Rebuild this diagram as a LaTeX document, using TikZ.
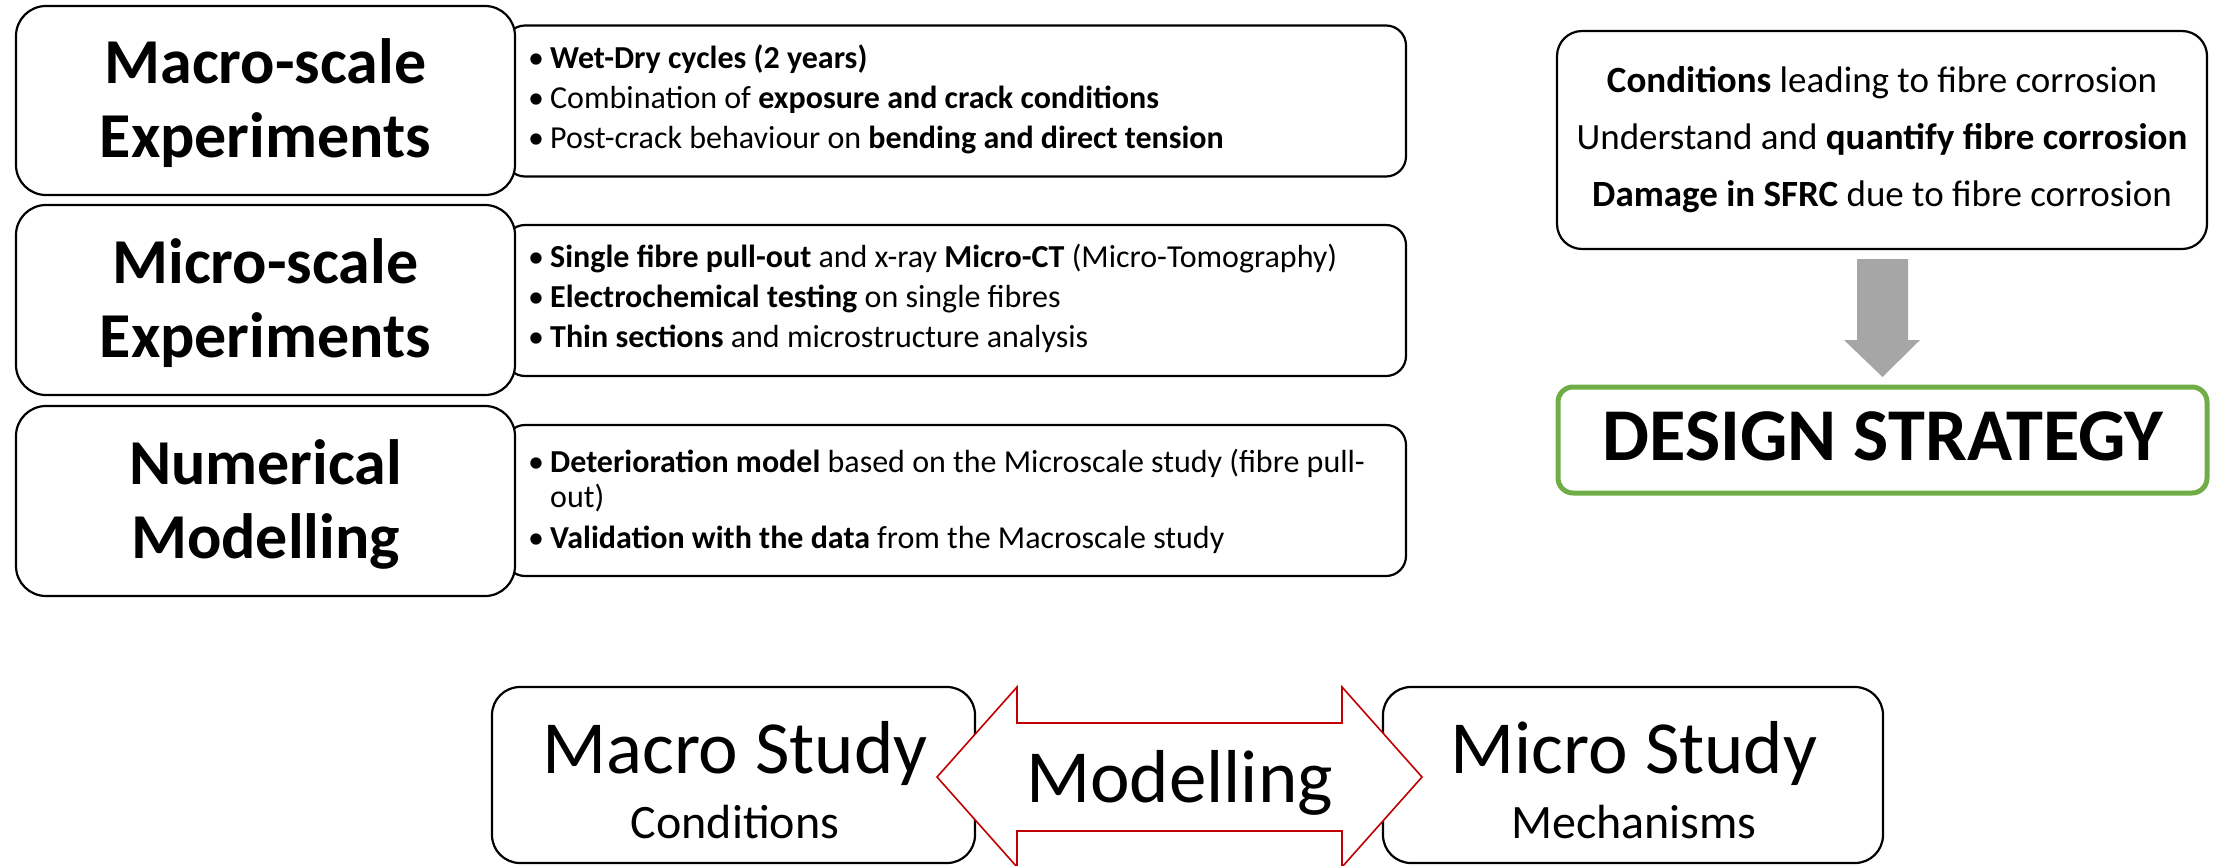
\documentclass[tikz,border=0pt]{standalone}
\usepackage{fontspec}
\setmainfont{Carlito}
\definecolor{dsgreen}{HTML}{70AD47}
\definecolor{modred}{HTML}{C00000}
\definecolor{flowgray}{HTML}{A6A6A6}
\newcommand{\bul}{\makebox[22pt][l]{•}}
\begin{document}
\begin{tikzpicture}[x=1pt,y=-1pt,
  headbox/.style={draw=black, line width=2.2pt, fill=white, rounded corners=30pt,
    minimum width=499pt, inner sep=0pt},
  listbox/.style={draw=black, line width=2.2pt, fill=white, rounded corners=20pt,
    minimum width=901pt, minimum height=151pt, inner sep=0pt},
  studybox/.style={draw=black, line width=2.2pt, fill=white, rounded corners=28pt,
    minimum height=176pt, inner sep=0pt},
  headtext/.style={anchor=base, inner sep=0pt, font=\fontsize{64}{74}\selectfont\bfseries},
  listtext/.style={anchor=base west, inner sep=0pt, font=\fontsize{32}{40}\selectfont},
  goaltext/.style={anchor=base, inner sep=0pt, font=\fontsize{37}{57}\selectfont},
]
\useasboundingbox (0,0) rectangle (2216,865);

% ---- detail boxes (behind the heading boxes) ----
\node[listbox] (d1) at (955.5,101) {};
\node[listbox] (d2) at (955.5,300.5) {};
\node[listbox] (d3) at (955.5,500.5) {};

% ---- heading boxes ----
\node[headbox, minimum height=189pt] (h1) at (265.5,100.5) {};
\node[headbox, minimum height=190pt] (h2) at (265.5,300) {};
\node[headbox, minimum height=190pt] (h3) at (265.5,501) {};

\node[headtext] (h1t) at (265.5,83) {\begin{tabular}[t]{@{}c@{}}Macro-scale\\Experiments\end{tabular}};
\node[headtext] (h2t) at (265.5,283) {\begin{tabular}[t]{@{}c@{}}Micro-scale\\Experiments\end{tabular}};
\node[headtext] (h3t) at (265.5,484) {\begin{tabular}[t]{@{}c@{}}Numerical\\Modelling\end{tabular}};

% ---- bullet lists ----
\node[listtext] (d1t) at (528,68) {\begin{tabular}[t]{@{}l@{}}
  \bul\textbf{Wet-Dry cycles (2 years)}\\
  \bul Combination of \textbf{exposure and crack conditions}\\
  \bul Post-crack behaviour on \textbf{bending and direct tension}
\end{tabular}};
\node[listtext] (d2t) at (528,267) {\begin{tabular}[t]{@{}l@{}}
  \bul\textbf{Single fibre pull-out} and x-ray \textbf{Micro-CT} (Micro-Tomography)\\
  \bul\textbf{Electrochemical testing} on single fibres\\
  \bul\textbf{Thin sections} and microstructure analysis
\end{tabular}};
\node[listtext] (d3t) at (528,472) {\begin{tabular}[t]{@{}l@{}}
  \bul\textbf{Deterioration model} based on the Microscale study (fibre pull-\\[-5pt]
  \hspace*{22pt}out)\\[1pt]
  \bul\textbf{Validation with the data} from the Macroscale study
\end{tabular}};

% ---- goals and design strategy ----
\node[draw=black, line width=2.2pt, rounded corners=25pt, minimum width=650pt,
  minimum height=218pt, inner sep=0pt] (goal) at (1882,140) {};
\node[goaltext] (goalt) at (1882,92) {\begin{tabular}[t]{@{}c@{}}
  \textbf{Conditions} leading to fibre corrosion\\
  Understand and \textbf{quantify fibre corrosion}\\
  \textbf{Damage in SFRC} due to fibre corrosion
\end{tabular}};

\fill[flowgray] (1857,259) -- (1908,259) -- (1908,340) -- (1920,340) -- (1882.5,377)
  -- (1844,340) -- (1857,340) -- cycle;

\node[draw=dsgreen, line width=5pt, rounded corners=15pt, minimum width=649pt,
  minimum height=106pt, inner sep=0pt] (design) at (1882.5,440) {};
\node[anchor=base, inner sep=0pt, font=\fontsize{74.5}{86}\selectfont\bfseries]
  (designt) at (1883,460) {DESIGN STRATEGY};

% ---- bottom row ----
\node[studybox, minimum width=483pt] (macro) at (733.5,775) {};
\node[studybox, minimum width=500pt] (micro) at (1633,775) {};
\node[anchor=base, inner sep=0pt, font=\fontsize{75}{86}\selectfont] (macrot) at (735,773) {Macro Study};
\node[anchor=base, inner sep=0pt, font=\fontsize{48}{56}\selectfont] (macros) at (735,838) {Conditions};
\node[anchor=base, inner sep=0pt, font=\fontsize{75}{86}\selectfont] (microt) at (1634,773) {Micro Study};
\node[anchor=base, inner sep=0pt, font=\fontsize{48}{56}\selectfont] (micros) at (1634,838) {Mechanisms};

\coordinate (ltip) at (937,777);
\coordinate (rtip) at (1422,777);
\filldraw[fill=white, draw=modred, line width=1.6pt, line join=miter]
  (ltip) -- (1017,687) -- (1017,723) -- (1342,723) -- (1342,687) -- (rtip)
  -- (1342,867) -- (1342,831) -- (1017,831) -- (1017,867) -- cycle;
\node[anchor=base, inner sep=0pt, font=\fontsize{75}{86}\selectfont] (modt) at (1179.5,802) {Modelling};
\end{tikzpicture}
\end{document}
